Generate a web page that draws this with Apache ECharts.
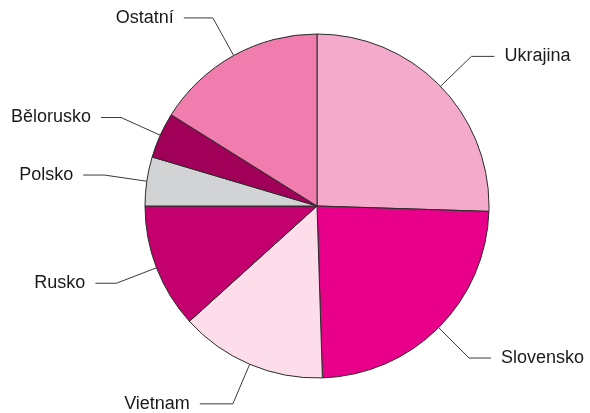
<!DOCTYPE html>
<html>
<head>
<meta charset="utf-8">
<script src="https://cdn.jsdelivr.net/npm/echarts@6/dist/echarts.min.js"></script>
<style>
html,body{margin:0;padding:0;background:#fff;}
#chart{width:590px;height:413px;}
</style>
</head>
<body>
<div id="chart"></div>
<script>
var categories = ['Ukrajina', 'Slovensko', 'Vietnam', 'Rusko', 'Polsko', 'Bělorusko', 'Ostatní'];
var values = [25.5, 24.0, 13.8, 11.7, 4.6, 4.3, 16.1];
var colors = ['#f4aacb', '#e8008a', '#fcdde9', '#c4006f', '#d2d3d5', '#a10059', '#f07dae'];
var secondLegLengths = [23, 22, 33, 21, 21, 20, 29];

var chart = echarts.init(document.getElementById('chart'), null, {renderer: 'canvas'});
var data = categories.map(function (c, i) {
  return {
    name: c,
    value: values[i],
    itemStyle: {color: colors[i]},
    labelLine: {length2: secondLegLengths[i]}
  };
});
chart.setOption({
  animation: false,
  backgroundColor: '#ffffff',
  series: [{
    type: 'pie',
    center: [317, 206],
    radius: [0, 172],
    startAngle: 90,
    clockwise: true,
    avoidLabelOverlap: false,
    data: data,
    itemStyle: {borderColor: '#2b2b2b', borderWidth: 1},
    label: {
      show: true,
      position: 'outside',
      formatter: '{b}',
      fontFamily: 'Liberation Sans, Arial, sans-serif',
      fontSize: 18,
      color: '#1a1a1a',
      distanceToLabelLine: 10
    },
    labelLine: {
      show: true,
      length: 43,
      length2: 22,
      smooth: false,
      lineStyle: {color: '#3a3a3a', width: 1}
    },
    emphasis: {disabled: true}
  }]
});
</script>
</body>
</html>
